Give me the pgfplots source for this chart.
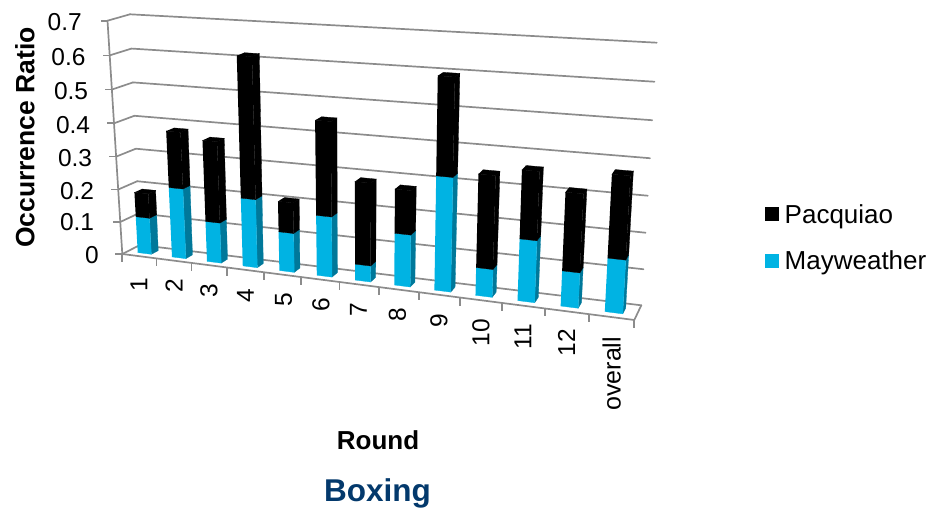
\documentclass[border=0pt]{standalone}
\usepackage{pgfplots}
\usepackage{pgfplotstable}
\usepackage{fontspec}
\setmainfont{Liberation Sans}
\pgfplotsset{compat=1.18}

\definecolor{wallgrey}{HTML}{8C8C8C}
\definecolor{mayfront}{HTML}{00B3E3}
\definecolor{mayside}{HTML}{00789A}
\definecolor{titleblue}{HTML}{03396C}

% Round, Mayweather share, combined height of the stacked column
\pgfplotstableread{
round may total
1  0.112 0.187
2  0.213 0.382
3  0.122 0.364
4  0.204 0.616
5  0.116 0.206
6  0.177 0.450
7  0.047 0.286
8  0.150 0.276
9  0.324 0.597
10 0.079 0.340
11 0.173 0.362
12 0.098 0.313
13 0.147 0.372
}\boxingdata

% One stacked segment: u centre, lower value, upper value, front and side colours
\newcommand{\segment}[5]{%
  % right-hand side face
  \addplot[forget plot,fill=#5,draw=#5,line width=0.3pt] coordinates {
    ({px(#1+0.2,0.3,#2)},{py(#1+0.2,0.3,#2)})
    ({px(#1+0.2,0.7,#2)},{py(#1+0.2,0.7,#2)})
    ({px(#1+0.2,0.7,#3)},{py(#1+0.2,0.7,#3)})
    ({px(#1+0.2,0.3,#3)},{py(#1+0.2,0.3,#3)})
  };
  % front face
  \addplot[forget plot,fill=#4,draw=#4,line width=0.3pt] coordinates {
    ({px(#1-0.2,0.3,#2)},{py(#1-0.2,0.3,#2)})
    ({px(#1+0.2,0.3,#2)},{py(#1+0.2,0.3,#2)})
    ({px(#1+0.2,0.3,#3)},{py(#1+0.2,0.3,#3)})
    ({px(#1-0.2,0.3,#3)},{py(#1-0.2,0.3,#3)})
  };
}
% Roof of a column: u centre, value, colour
\newcommand{\roof}[3]{%
  \addplot[forget plot,fill=#3,draw=#3,line width=0.3pt] coordinates {
    ({px(#1-0.2,0.3,#2)},{py(#1-0.2,0.3,#2)})
    ({px(#1+0.2,0.3,#2)},{py(#1+0.2,0.3,#2)})
    ({px(#1+0.2,0.7,#2)},{py(#1+0.2,0.7,#2)})
    ({px(#1-0.2,0.7,#2)},{py(#1-0.2,0.7,#2)})
  };
}
% One wall segment between two (u,d,v) positions
\newcommand{\wall}[6]{%
  \addplot[forget plot,wallgrey,line width=1.7pt,line cap=round] coordinates {
    ({px(#1,#2,#3)},{py(#1,#2,#3)})
    ({px(#4,#5,#6)},{py(#4,#5,#6)})
  };
}

\begin{document}
\begin{tikzpicture}[
  declare function={
    tt(\u)=0.86*(\u/13)/(1-0.14*(\u/13));
    ss(\v)=0.955*(\v/0.7)/(1-0.045*(\v/0.7));
    lerp(\a,\b,\f)=\a+(\b-\a)*\f;
    px(\u,\d,\v)=lerp(lerp(lerp(122.3,634.3,tt(\u)),lerp(140,641.3,tt(\u)),\d),
                      lerp(lerp(107.5,649.7,tt(\u)),lerp(130,656.7,tt(\u)),\d),ss(\v));
    py(\u,\d,\v)=lerp(lerp(lerp(254,320,tt(\u)),lerp(245,305.3,tt(\u)),\d),
                      lerp(lerp(20.7,52,tt(\u)),lerp(14.3,42.7,tt(\u)),\d),ss(\v));
  }]
\useasboundingbox (0,0) rectangle (934pt,510pt);
\begin{axis}[
  width=934pt,height=510pt,scale only axis,
  xmin=0,xmax=934,ymin=0,ymax=510,y dir=reverse,
  axis lines=none,clip=false,no markers,
  legend style={at={(axis cs:765,202)},anchor=north west,draw=none,fill=none,
    inner sep=0pt,font=\fontsize{26}{30}\selectfont,row sep=22pt,
    cells={anchor=west}},
  legend cell align=left,
  legend image code/.code={\path[draw=none,fill=none] (0pt,0pt) -- (17.5pt,0pt);\fill[draw=none,#1] (0pt,-7pt) rectangle (14pt,7pt);},
]
% Back wall gridlines and their continuation along the left wall
\pgfplotsforeachungrouped \vv in {0,0.1,0.2,0.3,0.4,0.5,0.6,0.7}{%
  \wall{0}{1}{\vv}{13}{1}{\vv}
  \wall{0}{0}{\vv}{0}{1}{\vv}
}
% Value axis edge and floor outline
\wall{0}{0}{0}{0}{0}{0.7}
\wall{0}{0}{0}{13}{0}{0}
\wall{13}{0}{0}{13}{1}{0}
% Tick marks on the value axis and along the floor front
\pgfplotsforeachungrouped \vv in {0,0.1,0.2,0.3,0.4,0.5,0.6,0.7}{%
  \addplot[forget plot,wallgrey,line width=1.7pt] coordinates {
    ({px(0,0,\vv)},{py(0,0,\vv)}) ({px(0,0,\vv)-7},{py(0,0,\vv)})};
}
\pgfplotsforeachungrouped \uu in {0,1,...,13}{%
  \addplot[forget plot,wallgrey,line width=1.7pt] coordinates {
    ({px(\uu,0,0)},{py(\uu,0,0)}) ({px(\uu,0,0)},{py(\uu,0,0)+8})};
}
% Stacked columns, one per round
\pgfplotsforeachungrouped \rowi in {0,...,12}{%
  \pgfplotstablegetelem{\rowi}{round}\of\boxingdata\let\curround\pgfplotsretval
  \pgfplotstablegetelem{\rowi}{may}\of\boxingdata\let\valmid\pgfplotsretval
  \pgfplotstablegetelem{\rowi}{total}\of\boxingdata\let\valtop\pgfplotsretval
  \pgfmathsetmacro\uc{\curround-0.5}
  \segment{\uc}{0}{\valmid}{mayfront}{mayside}
  \segment{\uc}{\valmid}{\valtop}{black}{black}
  \roof{\uc}{\valtop}{black}
}
% Legend entries
\addlegendimage{fill=black}
\addlegendentry{Pacquiao}
\addlegendimage{fill=mayfront}
\addlegendentry{Mayweather}
% Value axis numbers
\tikzset{tl/.style={font=\fontsize{24.5}{28}\selectfont,inner sep=0pt}}
\node[tl,anchor=east] at (axis cs:82,22) {0.7};
\node[tl,anchor=east] at (axis cs:85.7,57) {0.6};
\node[tl,anchor=east] at (axis cs:88.3,90.7) {0.5};
\node[tl,anchor=east] at (axis cs:90.3,125) {0.4};
\node[tl,anchor=east] at (axis cs:92.3,157.7) {0.3};
\node[tl,anchor=east] at (axis cs:94.3,190.7) {0.2};
\node[tl,anchor=east] at (axis cs:94.3,221.7) {0.1};
\node[tl,anchor=east] at (axis cs:99,255) {0};
% Round numbers
\node[tl,rotate=90,anchor=east] at (axis cs:139,278) {1};
\node[tl,rotate=90,anchor=east] at (axis cs:174,279) {2};
\node[tl,rotate=90,anchor=east] at (axis cs:209,284) {3};
\node[tl,rotate=90,anchor=east] at (axis cs:245.5,289) {4};
\node[tl,rotate=90,anchor=east] at (axis cs:283.5,293) {5};
\node[tl,rotate=90,anchor=east] at (axis cs:321,298) {6};
\node[tl,rotate=90,anchor=east] at (axis cs:358.5,303) {7};
\node[tl,rotate=90,anchor=east] at (axis cs:397.5,308) {8};
\node[tl,rotate=90,anchor=east] at (axis cs:439,314) {9};
\node[tl,rotate=90,anchor=east] at (axis cs:481,319) {10};
\node[tl,rotate=90,anchor=east] at (axis cs:523,324) {11};
\node[tl,rotate=90,anchor=east] at (axis cs:566.5,329) {12};
\node[tl,rotate=90,anchor=east,font=\fontsize{25}{28}\selectfont] at (axis cs:611.7,336.7) {overall};
% Titles
\node[font=\bfseries\fontsize{26.5}{30}\selectfont,inner sep=0pt,rotate=90] at (axis cs:25,137.5) {Occurrence Ratio};
\node[font=\bfseries\fontsize{26}{30}\selectfont,inner sep=0pt,anchor=base] at (axis cs:378,449) {Round};
\node[font=\bfseries\fontsize{31.5}{34}\selectfont,inner sep=0pt,anchor=base,text=titleblue] at (axis cs:377.5,501.7) {Boxing};
\end{axis}
\end{tikzpicture}
\end{document}
